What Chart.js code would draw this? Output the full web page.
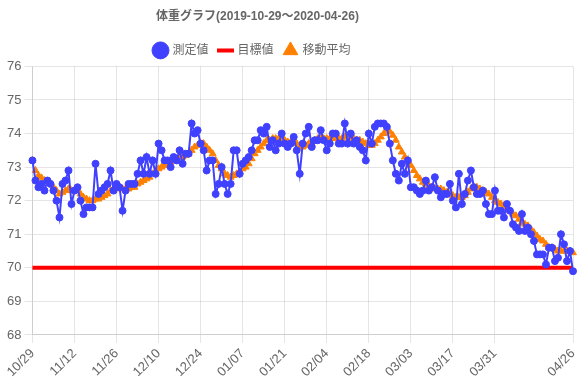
<!DOCTYPE html>
<html>
<head>
<meta charset="utf-8">
<script src="https://cdn.jsdelivr.net/npm/chart.js@4/dist/chart.umd.min.js"></script>
<style>
html,body{margin:0;padding:0;background:#fff;}
#wrap{width:580px;height:390px;}
</style>
</head>
<body>
<div id="wrap"><canvas id="c" width="580" height="390"></canvas></div>
<script>
const chartTitle = '体重グラフ(2019-10-29〜2020-04-26)';
const seriesNames = ['測定値', '目標値', '移動平均'];

const dates = [
'10/29','10/30','10/31',
'11/01','11/02','11/03','11/04','11/05','11/06','11/07','11/08','11/09','11/10','11/11','11/12','11/13','11/14','11/15','11/16','11/17','11/18','11/19','11/20','11/21','11/22','11/23','11/24','11/25','11/26','11/27','11/28','11/29','11/30',
'12/01','12/02','12/03','12/04','12/05','12/06','12/07','12/08','12/09','12/10','12/11','12/12','12/13','12/14','12/15','12/16','12/17','12/18','12/19','12/20','12/21','12/22','12/23','12/24','12/25','12/26','12/27','12/28','12/29','12/30','12/31',
'01/01','01/02','01/03','01/04','01/05','01/06','01/07','01/08','01/09','01/10','01/11','01/12','01/13','01/14','01/15','01/16','01/17','01/18','01/19','01/20','01/21','01/22','01/23','01/24','01/25','01/26','01/27','01/28','01/29','01/30','01/31',
'02/01','02/02','02/03','02/04','02/05','02/06','02/07','02/08','02/09','02/10','02/11','02/12','02/13','02/14','02/15','02/16','02/17','02/18','02/19','02/20','02/21','02/22','02/23','02/24','02/25','02/26','02/27','02/28','02/29',
'03/01','03/02','03/03','03/04','03/05','03/06','03/07','03/08','03/09','03/10','03/11','03/12','03/13','03/14','03/15','03/16','03/17','03/18','03/19','03/20','03/21','03/22','03/23','03/24','03/25','03/26','03/27','03/28','03/29','03/30','03/31',
'04/01','04/02','04/03','04/04','04/05','04/06','04/07','04/08','04/09','04/10','04/11','04/12','04/13','04/14','04/15','04/16','04/17','04/18','04/19','04/20','04/21','04/22','04/23','04/24','04/25','04/26'
];

const tickLabels = ['10/29','11/12','11/26','12/10','12/24','01/07','01/21','02/04','02/18','03/03','03/17','03/31','04/26'];

const measured = [
73.2,72.6,72.4,72.5,72.3,72.6,72.5,72.3,72.0,71.5,
72.5,72.6,72.9,71.9,72.3,72.4,72.0,71.6,71.8,71.8,
71.8,73.1,72.2,72.3,72.4,72.5,72.9,72.3,72.5,72.4,
71.7,72.3,72.5,72.5,72.5,72.8,73.2,72.8,73.3,72.8,
73.2,72.8,73.7,73.5,73.2,73.2,73.0,73.3,73.2,73.5,
73.1,73.4,73.4,74.3,74.0,74.1,73.7,73.5,72.9,73.2,
73.2,72.2,72.5,73.0,72.5,72.2,72.5,73.5,73.5,72.8,
73.1,73.2,73.3,73.5,73.8,73.8,74.1,74.0,74.2,73.6,
73.8,73.5,73.7,74.0,73.7,73.6,73.7,73.9,73.5,72.8,
73.7,74.0,74.2,73.6,73.8,73.8,74.1,73.8,73.5,73.7,
74.0,74.0,73.7,73.7,74.3,73.7,74.0,73.7,73.8,73.6,
73.5,73.2,74.0,73.7,74.2,74.3,74.3,74.3,74.2,73.7,
73.2,72.8,72.6,73.1,72.8,73.2,72.4,72.4,72.3,72.2,
72.3,72.6,72.3,72.4,72.7,72.3,72.1,72.2,72.2,72.5,
72.0,71.8,72.8,71.9,72.2,72.6,72.9,72.4,72.2,72.2,
72.3,71.9,71.6,71.6,72.3,71.7,71.7,71.5,71.9,71.7,
71.3,71.2,71.1,71.6,71.1,71.2,71.0,70.8,70.4,70.4,
70.4,70.1,70.6,70.6,70.2,70.3,71.0,70.7,70.2,70.5,
69.9
];

const target = [
70,70,70,70,70,70,70,70,70,70,70,70,70,70,70,70,70,70,70,70,
70,70,70,70,70,70,70,70,70,70,70,70,70,70,70,70,70,70,70,70,
70,70,70,70,70,70,70,70,70,70,70,70,70,70,70,70,70,70,70,70,
70,70,70,70,70,70,70,70,70,70,70,70,70,70,70,70,70,70,70,70,
70,70,70,70,70,70,70,70,70,70,70,70,70,70,70,70,70,70,70,70,
70,70,70,70,70,70,70,70,70,70,70,70,70,70,70,70,70,70,70,70,
70,70,70,70,70,70,70,70,70,70,70,70,70,70,70,70,70,70,70,70,
70,70,70,70,70,70,70,70,70,70,70,70,70,70,70,70,70,70,70,70,
70,70,70,70,70,70,70,70,70,70,70,70,70,70,70,70,70,70,70,70,
70
];

const movingAvg = [
73.2,72.9,72.75,72.68,72.6,72.58,72.5,72.4,72.3,72.2,
72.25,72.3,72.35,72.3,72.3,72.3,72.2,72.1,72.05,72.0,
72.0,72.05,72.05,72.1,72.15,72.2,72.3,72.3,72.35,72.4,
72.35,72.35,72.35,72.4,72.4,72.5,72.55,72.6,72.65,72.7,
72.8,72.85,72.95,73.0,73.05,73.1,73.15,73.2,73.25,73.3,
73.3,73.35,73.4,73.5,73.6,73.65,73.7,73.7,73.6,73.5,
73.4,73.2,73.05,72.95,72.8,72.75,72.7,72.75,72.8,72.85,
72.95,73.0,73.1,73.25,73.4,73.5,73.6,73.7,73.8,73.8,
73.85,73.85,73.85,73.8,73.8,73.75,73.75,73.75,73.7,73.6,
73.6,73.65,73.7,73.7,73.8,73.85,73.85,73.85,73.85,73.85,
73.85,73.85,73.85,73.85,73.9,73.9,73.9,73.85,73.8,73.8,
73.75,73.7,73.65,73.65,73.7,73.8,73.9,74.0,74.1,74.05,
73.95,73.8,73.6,73.45,73.3,73.2,73.05,72.9,72.75,72.65,
72.55,72.5,72.45,72.4,72.35,72.35,72.35,72.3,72.25,72.2,
72.15,72.1,72.1,72.1,72.15,72.25,72.35,72.4,72.4,72.35,
72.3,72.25,72.2,72.1,72.0,71.95,71.9,71.85,71.8,71.7,
71.6,71.55,71.45,71.35,71.3,71.25,71.15,71.05,70.95,70.85,
70.8,70.7,70.6,70.6,70.55,70.5,70.5,70.5,70.5,70.5,
70.45
];

const yMin = 68, yMax = 76;

Chart.defaults.font.family = "'Helvetica Neue', Helvetica, Arial, 'Noto Sans CJK JP', sans-serif";
Chart.defaults.color = '#666';

const shiftPlugin = {
  id: 'shiftHeader',
  afterLayout(chart) {
    if (chart.titleBlock) chart.titleBlock.right -= 62;
    if (chart.legend) chart.legend.right -= 72;
  }
};

new Chart(document.getElementById('c'), {
  type: 'line',
  data: {
    labels: dates,
    datasets: [
      {
        label: seriesNames[0],
        data: measured,
        borderColor: 'rgb(64,64,255)',
        backgroundColor: 'rgb(64,64,255)',
        borderWidth: 2,
        pointRadius: 3.5,
        pointBorderWidth: 1,
        pointStyle: 'circle',
        tension: 0,
        fill: false
      },
      {
        label: seriesNames[1],
        data: target,
        borderColor: 'rgb(255,0,0)',
        backgroundColor: 'rgb(255,0,0)',
        borderWidth: 4,
        pointRadius: 0,
        pointHoverRadius: 0,
        pointStyle: 'line',
        fill: false
      },
      {
        label: seriesNames[2],
        data: movingAvg,
        borderColor: 'rgb(255,128,0)',
        backgroundColor: 'rgb(255,128,0)',
        borderWidth: 1,
        pointRadius: 4,
        pointStyle: 'triangle',
        showLine: false,
        fill: false
      }
    ]
  },
  options: {
    responsive: false,
    animation: false,
    layout: { padding: { left: 4, right: 7, top: -1, bottom: 7 } },
    plugins: {
      title: {
        display: true,
        text: chartTitle,
        font: { size: 12, weight: 'bold' },
        color: '#666',
        padding: { top: 10, bottom: 10 }
      },
      legend: {
        display: true,
        labels: { usePointStyle: true, font: { size: 12 }, color: '#666', padding: 11 }
      },
      tooltip: { enabled: false }
    },
    scales: {
      x: {
        type: 'category',
        afterBuildTicks(scale) {
          scale.ticks = scale.ticks.filter(t => tickLabels.includes(dates[t.value]));
        },
        afterFit(scale) {
          scale.paddingRight = 0;
        },
        ticks: { autoSkip: false, minRotation: 45, maxRotation: 45, font: { size: 13 }, color: '#666' },
        grid: { color: 'rgba(0,0,0,0.1)' }
      },
      y: {
        min: yMin,
        max: yMax,
        ticks: { stepSize: 1, font: { size: 13 }, color: '#666' },
        grid: { color: 'rgba(0,0,0,0.1)' }
      }
    }
  },
  plugins: [shiftPlugin]
});
</script>
</body>
</html>
